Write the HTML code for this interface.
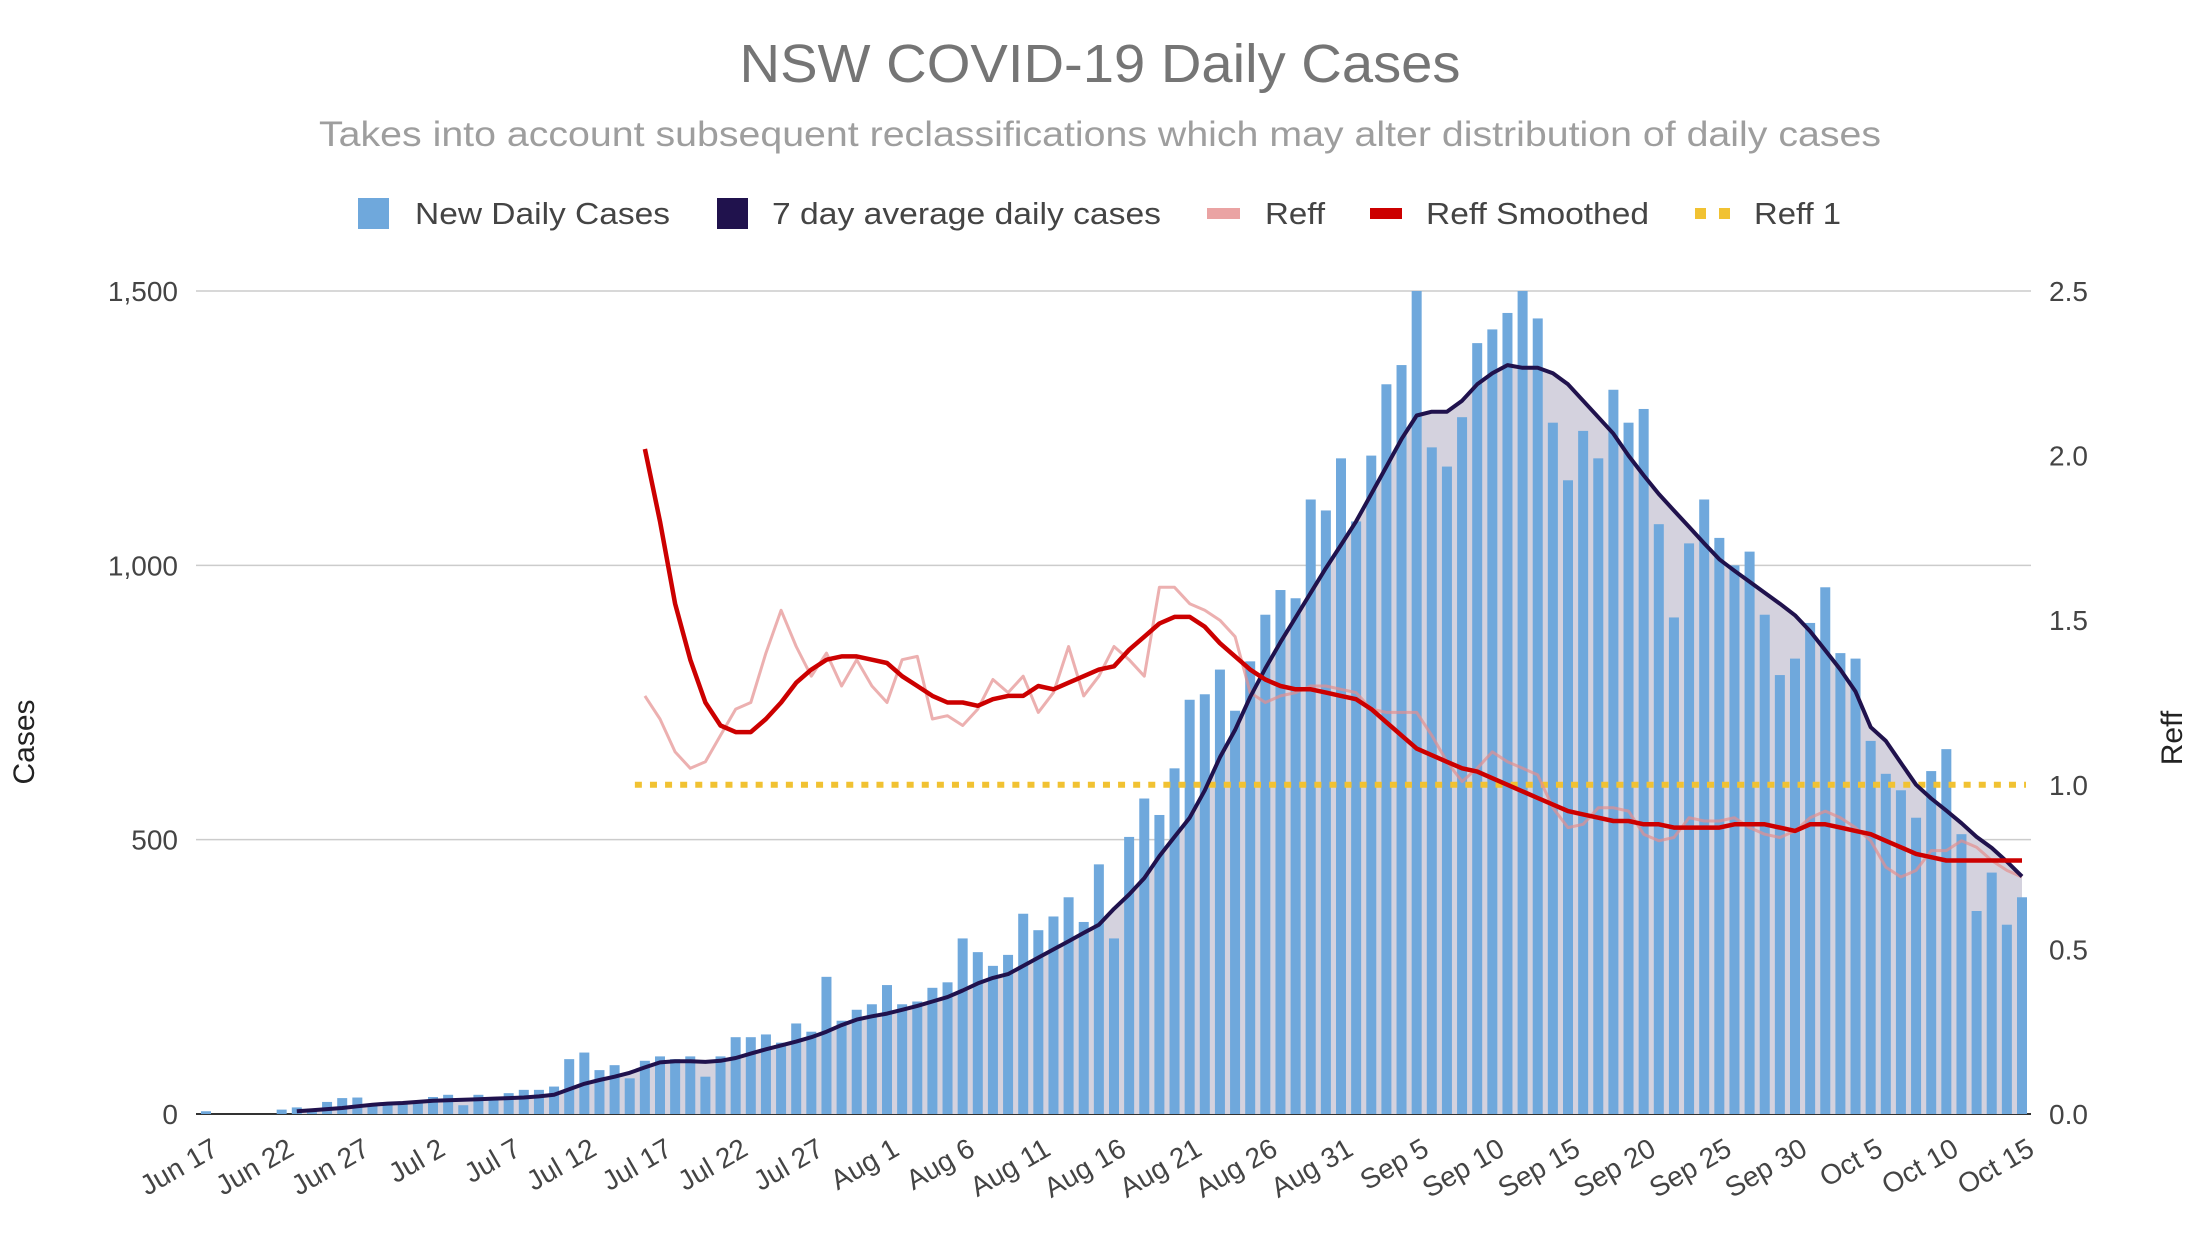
<!DOCTYPE html>
<html><head><meta charset="utf-8"><style>
html,body{margin:0;padding:0;background:#fff;}
svg{display:block;font-family:"Liberation Sans",Arial,sans-serif;}
</style></head><body>
<svg id="chart" width="2185" height="1235" viewBox="0 0 2185 1235" xmlns="http://www.w3.org/2000/svg">
<rect width="2185" height="1235" fill="#fff"/>
<text x="1100" y="82" text-anchor="middle" font-size="54" fill="#757575" textLength="721" lengthAdjust="spacingAndGlyphs">NSW COVID-19 Daily Cases</text>
<text x="1100" y="146" text-anchor="middle" font-size="35" fill="#9e9e9e" textLength="1562" lengthAdjust="spacingAndGlyphs">Takes into account subsequent reclassifications which may alter distribution of daily cases</text>
<g font-size="31" fill="#444">
 <g><rect x="358" y="198" width="31" height="31" fill="#6fa8dc"/><text x="415" y="224" textLength="255" lengthAdjust="spacingAndGlyphs">New Daily Cases</text></g>
 <g><rect x="717" y="198" width="31" height="31" fill="#20124d"/><text x="772" y="224" textLength="389" lengthAdjust="spacingAndGlyphs">7 day average daily cases</text></g>
 <g><rect x="1207" y="208" width="33" height="11" fill="#eaa3a3"/><text x="1265" y="224" textLength="60" lengthAdjust="spacingAndGlyphs">Reff</text></g>
 <g><rect x="1370" y="208" width="32" height="11" fill="#cc0000"/><text x="1426" y="224" textLength="223" lengthAdjust="spacingAndGlyphs">Reff Smoothed</text></g>
 <g><rect x="1695" y="208" width="11" height="11" fill="#f1c232"/><rect x="1719" y="208" width="11" height="11" fill="#f1c232"/><text x="1754" y="224" textLength="87" lengthAdjust="spacingAndGlyphs">Reff 1</text></g>
</g>
<g id="grid"></g>
<g id="area"></g>
<g id="bars"></g>
<g id="lines"></g>
<g id="axes"></g>
<text transform="translate(34,742) rotate(-90)" text-anchor="middle" font-size="30" fill="#222">Cases</text>
<text transform="translate(2182,738) rotate(-90)" text-anchor="middle" font-size="30" fill="#222">Reff</text>
</svg>
<script>
const cases = [5,0,0,0,0,8,12,10,22,29,30,18,19,22,
24,31,35,16,35,27,38,44,44,50,100,112,80,89,65,97,105,100,105,68,105,140,140,145,130,165,150,250,170,190,200,
235,200,205,230,240,320,295,270,290,365,335,360,395,350,455,320,505,575,545,630,755,765,810,735,825,910,955,940,1120,1100,1195,
1080,1200,1330,1365,1540,1215,1180,1270,1405,1430,1460,1550,1450,1260,1155,1245,1195,1320,1260,1285,1075,905,1040,1120,1050,1000,1025,910,800,830,
895,960,840,830,680,620,590,540,625,665,510,370,440,345,395];
const avgStart = 6; // index of Jun 23
const avg7 = [5,7,9,11,14,17,19,20,
22,24,25,26,27,28,29,30,32,35,45,55,62,68,75,85,94,96,96,95,97,102,110,118,125,132,140,150,162,172,178,
183,190,197,205,213,225,238,248,255,270,285,300,315,330,345,374,400,430,470,505,540,590,650,700,760,812,860,905,950,995,1037,
1080,1130,1180,1230,1273,1280,1280,1300,1330,1350,1365,1360,1360,1350,1330,1300,1270,1240,1200,1164,1130,1100,1070,1040,1011,990,970,950,930,909,
880,845,810,770,705,680,640,600,575,553,530,505,485,460,433];
const reffStart = 29; // index of Jul 16
const reff = [1.27,1.2,1.1,1.05,1.07,1.15,1.23,1.25,1.4,1.53,1.42,1.33,1.4,1.3,1.38,1.3,
1.25,1.38,1.39,1.2,1.21,1.18,1.23,1.32,1.28,1.33,1.22,1.28,1.42,1.27,1.33,1.42,1.38,1.33,1.6,1.6,1.55,1.53,1.5,1.45,1.28,1.25,1.27,1.28,1.3,1.3,1.29,
1.28,1.23,1.22,1.22,1.22,1.15,1.07,1.01,1.05,1.1,1.07,1.05,1.03,0.93,0.87,0.88,0.93,0.93,0.92,0.85,0.83,0.84,0.9,0.89,0.89,0.9,0.87,0.85,0.84,0.86,
0.9,0.92,0.9,0.87,0.83,0.75,0.72,0.74,0.8,0.8,0.83,0.81,0.77,0.74,0.72];
const reffSmoothed = [2.02,1.8,1.55,1.38,1.25,1.18,1.16,1.16,1.2,1.25,1.31,1.35,1.38,1.39,1.39,1.38,
1.37,1.33,1.3,1.27,1.25,1.25,1.24,1.26,1.27,1.27,1.3,1.29,1.31,1.33,1.35,1.36,1.41,1.45,1.49,1.51,1.51,1.48,1.43,1.39,1.35,1.32,1.3,1.29,1.29,1.28,1.27,
1.26,1.23,1.19,1.15,1.11,1.09,1.07,1.05,1.04,1.02,1.0,0.98,0.96,0.94,0.92,0.91,0.9,0.89,0.89,0.88,0.88,0.87,0.87,0.87,0.87,0.88,0.88,0.88,0.87,0.86,
0.88,0.88,0.87,0.86,0.85,0.83,0.81,0.79,0.78,0.77,0.77,0.77,0.77,0.77,0.77];
const caseTicks = [0,500,1000,1500];
const caseTickLabels = ["0","500","1,000","1,500"];
const reffTicks = [0,0.5,1.0,1.5,2.0,2.5];
const reffTickLabels = ["0.0","0.5","1.0","1.5","2.0","2.5"];
const xLabels = ["Jun 17","Jun 22","Jun 27","Jul 2","Jul 7","Jul 12","Jul 17","Jul 22","Jul 27","Aug 1","Aug 6","Aug 11","Aug 16","Aug 21","Aug 26","Aug 31","Sep 5","Sep 10","Sep 15","Sep 20","Sep 25","Sep 30","Oct 5","Oct 10","Oct 15"];
const reffOne = 1.0;

const NS="http://www.w3.org/2000/svg";
const X0=206, DX=(2022-206)/120, L=196, R=2031, Y0=1114, YT=291;
const x = i => X0 + i*DX;
const yC = v => Y0 - (v/1500)*(Y0-YT);
const yR = v => Y0 - (v/2.5)*(Y0-YT);
function mk(tag, attrs, parent){const e=document.createElementNS(NS,tag);for(const k in attrs)e.setAttribute(k,attrs[k]);document.getElementById(parent).appendChild(e);return e;}

caseTicks.forEach((t,i)=>{
  const g=mk('line',{x1:L,x2:R,y1:yC(t),y2:yC(t),stroke:i===0?'#333':'#cccccc','stroke-width':i===0?2:1.5},'grid');
  
  
  const tx=mk('text',{x:178,y:yC(t)+10,'text-anchor':'end','font-size':28,fill:'#444'},'axes');
  tx.textContent=caseTickLabels[i];
  
  
});
reffTicks.forEach((t,i)=>{
  const tx=mk('text',{x:2049,y:yR(t)+10,'font-size':28,fill:'#444'},'axes');
  tx.textContent=reffTickLabels[i];
  
  
});
xLabels.forEach((lab,i)=>{
  const d=i*5;
  const tx=mk('text',{'text-anchor':'end','font-size':28,fill:'#444',transform:`translate(${x(d)+14},${Y0+40}) rotate(-30)`},'axes');
  tx.textContent=lab;
  
  
});

const avgPts = avg7.map((v,k)=>[avgStart+k, v]);
let ad=`M${x(avgPts[0][0])},${Y0}`;
avgPts.forEach(p=>ad+=` L${x(p[0]).toFixed(1)},${yC(p[1]).toFixed(1)}`);
ad+=` L${x(avgPts[avgPts.length-1][0])},${Y0} Z`;
const area=mk('path',{d:ad,fill:'#d4d2de'},'area');



cases.forEach((v,i)=>{
  const h=Math.min(v,1500);
  const b=mk('rect',{x:x(i)-5,y:yC(h),width:10,height:Y0-yC(h),fill:'#6fa8dc'},'bars');
  
  
});

const rl=mk('line',{x1:x(reffStart)-10,x2:x(cases.length-1)+4,y1:yR(reffOne),y2:yR(reffOne),stroke:'#f1c232','stroke-width':6,'stroke-dasharray':'7 8.1'},'lines');



const pr=mk('path',{d:reff.map((v,i)=>(i?'L':'M')+x(reffStart+i).toFixed(1)+','+yR(v).toFixed(1)).join(' '),fill:'none',stroke:'#e48f8f','stroke-opacity':0.7,'stroke-width':3,'stroke-linejoin':'round'},'lines');



const pa=mk('path',{d:avgPts.map((p,k)=>(k?'L':'M')+x(p[0]).toFixed(1)+','+yC(p[1]).toFixed(1)).join(' '),fill:'none',stroke:'#20124d','stroke-width':4,'stroke-linejoin':'round'},'lines');



const ps=mk('path',{d:reffSmoothed.map((v,i)=>(i?'L':'M')+x(reffStart+i).toFixed(1)+','+yR(v).toFixed(1)).join(' '),fill:'none',stroke:'#cc0000','stroke-width':4.5,'stroke-linejoin':'round'},'lines');


</script>
</body></html>
